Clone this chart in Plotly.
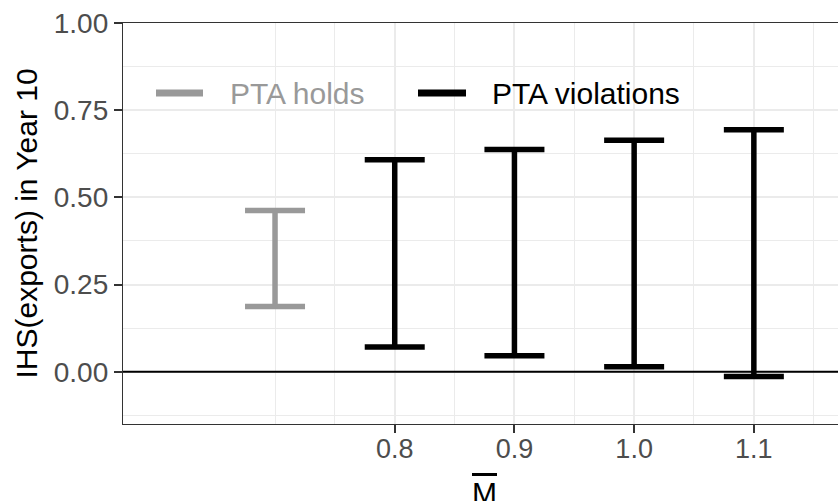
import plotly.graph_objects as go

# Confidence intervals for IHS(exports) in year 10, by M-bar
m_bar = [0.7, 0.8, 0.9, 1.0, 1.1]
group = ["PTA holds", "PTA violations", "PTA violations", "PTA violations", "PTA violations"]
ci_low = [0.187, 0.071, 0.046, 0.014, -0.014]
ci_high = [0.462, 0.608, 0.637, 0.664, 0.694]

series_names = ["PTA holds", "PTA violations"]
series_colors = ["#999999", "#000000"]

x_tick_vals = [0.8, 0.9, 1.0, 1.1]
x_tick_text = ["0.8", "0.9", "1.0", "1.1"]
x_minor_vals = [0.7, 0.75, 0.85, 0.95, 1.05, 1.15]
y_tick_vals = [0.0, 0.25, 0.5, 0.75, 1.0]
y_tick_text = ["0.00", "0.25", "0.50", "0.75", "1.00"]
y_minor_vals = [-0.125, 0.125, 0.375, 0.625, 0.875]

# Page geometry
W, H = 838, 501
L, R, T, B = 123, 0, 23, 77
PW, PH = W - L - R, H - T - B


def px_x(px):
    return (px - L) / PW


def px_y(py):
    return (H - B - py) / PH


FONT = "Liberation Sans, Arial, Helvetica, sans-serif"

fig = go.Figure()

for name, color in zip(series_names, series_colors):
    xs, mids, halves = [], [], []
    for x, g, lo, hi in zip(m_bar, group, ci_low, ci_high):
        if g == name:
            xs.append(x)
            mids.append((lo + hi) / 2)
            halves.append((hi - lo) / 2)
    fig.add_trace(go.Scatter(
        x=xs, y=mids, mode="markers", name=name, showlegend=False,
        marker=dict(size=1, opacity=0, color=color),
        error_y=dict(type="data", array=halves, symmetric=True,
                     color=color, thickness=5.5, width=30),
        hoverinfo="skip",
    ))

# Reference line at zero
fig.add_shape(type="line", xref="x domain", yref="y", x0=0, x1=1, y0=0, y1=0,
              line=dict(color="#000000", width=2), layer="above")

# Legend drawn inside the panel: key line + label per series
legend_y = 93
legend_items = [(156, 203, 228), (418, 466, 490)]
for (k0, k1, tx), name, color in zip(legend_items, series_names, series_colors):
    fig.add_shape(type="line", xref="paper", yref="paper",
                  x0=px_x(k0), x1=px_x(k1), y0=px_y(legend_y), y1=px_y(legend_y),
                  line=dict(color=color, width=7), layer="above")
    fig.add_annotation(xref="paper", yref="paper", x=px_x(tx), y=px_y(legend_y),
                       text=name, showarrow=False, xanchor="left", yanchor="middle",
                       font=dict(family=FONT, size=30, color=color))

# Axis titles
fig.add_annotation(xref="paper", yref="paper", x=px_x(26), y=0.5,
                   text="IHS(exports) in Year 10", textangle=-90, showarrow=False,
                   xanchor="center", yanchor="middle",
                   font=dict(family=FONT, size=30, color="#000000"))
fig.add_annotation(xref="paper", yref="paper", x=px_x(484.5), y=px_y(474),
                   text='<span style="text-decoration:overline">M</span>',
                   showarrow=False, xanchor="center", yanchor="top",
                   font=dict(family=FONT, size=30, color="#000000"))

fig.update_xaxes(
    range=[0.573, 1.1703], tickvals=x_tick_vals, ticktext=x_tick_text,
    ticks="outside", ticklen=8, tickwidth=2, tickcolor="#333333",
    tickfont=dict(family=FONT, size=27, color="#4D4D4D"),
    ticklabelstandoff=-8,
    showgrid=True, gridcolor="#EBEBEB", gridwidth=1.6,
    minor=dict(tickvals=x_minor_vals, showgrid=True, gridcolor="#EBEBEB",
               gridwidth=1, ticks=""),
    showline=True, linecolor="#333333", linewidth=1.3, mirror=True,
    zeroline=False,
)
fig.update_yaxes(
    range=[-0.15, 1.0], tickvals=y_tick_vals, ticktext=y_tick_text,
    ticks="outside", ticklen=8, tickwidth=2, tickcolor="#333333",
    tickfont=dict(family=FONT, size=28, color="#4D4D4D"),
    showgrid=True, gridcolor="#EBEBEB", gridwidth=1.6,
    minor=dict(tickvals=y_minor_vals, showgrid=True, gridcolor="#EBEBEB",
               gridwidth=1, ticks=""),
    showline=True, linecolor="#333333", linewidth=1.3, mirror=False,
    zeroline=False,
)

fig.update_layout(
    width=W, height=H,
    margin=dict(l=L, r=R, t=T, b=B, pad=0),
    paper_bgcolor="#FFFFFF", plot_bgcolor="#FFFFFF",
    showlegend=False,
    font=dict(family=FONT),
)

fig.write_html("out.html")
